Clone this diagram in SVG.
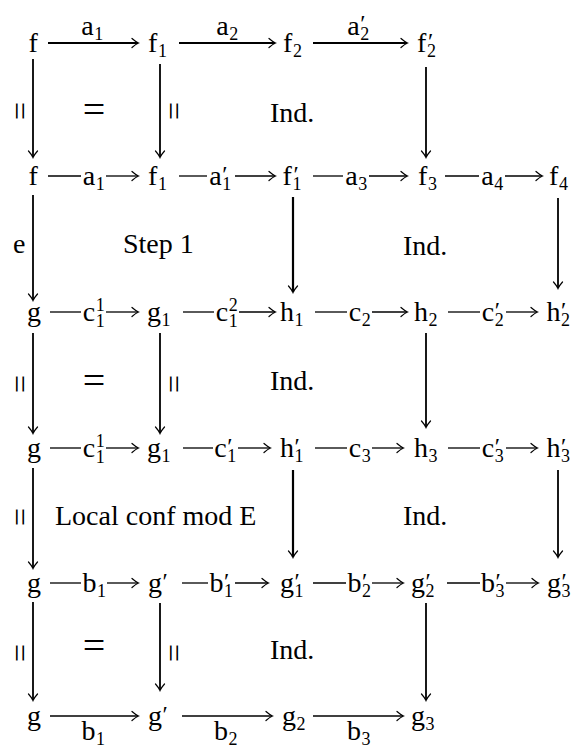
<svg xmlns="http://www.w3.org/2000/svg" width="572" height="751" viewBox="0 0 572 751" font-family="'Liberation Serif', 'Times New Roman', Times, 'DejaVu Serif', serif">
<style>
text{font-family:"Liberation Serif","Times New Roman",Times,"DejaVu Serif",serif;fill:#000}
.m{font-size:28px}
.s{font-size:18px}
.p{font-size:24px}
.q{font-size:40px;text-anchor:middle}
.r{font-size:32px;text-anchor:middle}
.top{stroke:#000;stroke-width:2;fill:none}
.in{stroke:#000;stroke-width:1.3;fill:none}
.bot{stroke:#000;stroke-width:1.6;fill:none}
.v{stroke:#000;stroke-width:1.8;fill:none}
.vt{stroke:#000;stroke-width:2.2;fill:none}
.a{marker-end:url(#ah)}
</style>
<defs>
<marker id="ah" viewBox="-8 -6 10 12" refX="0" refY="0" markerWidth="10" markerHeight="12" markerUnits="userSpaceOnUse" orient="auto">
<path d="M-6,-4.5 Q-2,-1 0.5,0 Q-2,1 -6,4.5" fill="none" stroke="#000" stroke-width="1.2" stroke-linecap="round"/>
</marker>
</defs>

<g id="nodes">
<!-- row 1 -->
<g id="n-f-r1"><text class="m" x="28.4" y="52">f</text></g>
<g id="n-f1-r1"><text class="m" x="148" y="52">f</text><text class="s" x="158" y="57">1</text></g>
<g id="n-f2-r1"><text class="m" x="283" y="52">f</text><text class="s" x="293" y="57">2</text></g>
<g id="n-f2p-r1"><text class="m" x="417" y="52">f</text><text class="p" x="428" y="49">′</text><text class="s" x="427" y="57">2</text></g>
<!-- row 2 -->
<g id="n-f-r2"><text class="m" x="28.4" y="185">f</text></g>
<g id="n-f1-r2"><text class="m" x="148" y="185">f</text><text class="s" x="158" y="190">1</text></g>
<g id="n-f1p-r2"><text class="m" x="282.5" y="185">f</text><text class="p" x="293.5" y="182">′</text><text class="s" x="292.5" y="190">1</text></g>
<g id="n-f3-r2"><text class="m" x="418" y="185">f</text><text class="s" x="428" y="190">3</text></g>
<g id="n-f4-r2"><text class="m" x="549" y="185">f</text><text class="s" x="559" y="190">4</text></g>
<!-- row 3 -->
<g id="n-g-r3"><text class="m" x="27" y="321">g</text></g>
<g id="n-g1-r3"><text class="m" x="147" y="321">g</text><text class="s" x="161.5" y="326">1</text></g>
<g id="n-h1-r3"><text class="m" x="280" y="321">h</text><text class="s" x="294.5" y="326">1</text></g>
<g id="n-h2-r3"><text class="m" x="414" y="321">h</text><text class="s" x="428.5" y="326">2</text></g>
<g id="n-h2p-r3"><text class="m" x="546.5" y="321">h</text><text class="p" x="561" y="318">′</text><text class="s" x="561" y="326">2</text></g>
<!-- row 4 -->
<g id="n-g-r4"><text class="m" x="27" y="457">g</text></g>
<g id="n-g1-r4"><text class="m" x="147" y="457">g</text><text class="s" x="161.5" y="462">1</text></g>
<g id="n-h1p-r4"><text class="m" x="280" y="457">h</text><text class="p" x="294.5" y="454">′</text><text class="s" x="294.5" y="462">1</text></g>
<g id="n-h3-r4"><text class="m" x="414" y="457">h</text><text class="s" x="428.5" y="462">3</text></g>
<g id="n-h3p-r4"><text class="m" x="546.5" y="457">h</text><text class="p" x="561" y="454">′</text><text class="s" x="561" y="462">3</text></g>
<!-- row 5 -->
<g id="n-g-r5"><text class="m" x="27" y="592">g</text></g>
<g id="n-gp-r5"><text class="m" x="148" y="592">g</text><text class="p" x="162.5" y="589">′</text></g>
<g id="n-g1p-r5"><text class="m" x="280" y="592">g</text><text class="p" x="294.5" y="589">′</text><text class="s" x="294.5" y="597">1</text></g>
<g id="n-g2p-r5"><text class="m" x="411" y="592">g</text><text class="p" x="425.5" y="589">′</text><text class="s" x="425.5" y="597">2</text></g>
<g id="n-g3p-r5"><text class="m" x="547" y="592">g</text><text class="p" x="561.5" y="589">′</text><text class="s" x="561.5" y="597">3</text></g>
<!-- row 6 -->
<g id="n-g-r6"><text class="m" x="27" y="725">g</text></g>
<g id="n-gp-r6"><text class="m" x="148" y="725">g</text><text class="p" x="162.5" y="722">′</text></g>
<g id="n-g2-r6"><text class="m" x="282" y="725">g</text><text class="s" x="296.5" y="730">2</text></g>
<g id="n-g3-r6"><text class="m" x="411" y="725">g</text><text class="s" x="425.5" y="730">3</text></g>
</g>

<g id="connectors">
<!-- row 1 -->
<line class="top a" x1="48" y1="43" x2="138" y2="43"/>
<line class="top a" x1="179" y1="43" x2="275" y2="43"/>
<line class="top a" x1="313" y1="43" x2="407" y2="43"/>
<!-- row 2 -->
<line class="in" x1="48" y1="176" x2="81" y2="176"/><line class="in a" x1="106" y1="176" x2="138" y2="176"/>
<line class="in" x1="179" y1="176" x2="207" y2="176"/><line class="in a" x1="235" y1="176" x2="275" y2="176"/>
<line class="in" x1="313" y1="176" x2="343" y2="176"/><line class="in a" x1="369" y1="176" x2="407" y2="176"/>
<line class="in" x1="445" y1="176" x2="479" y2="176"/><line class="in a" x1="505" y1="176" x2="542" y2="176"/>
<!-- row 3 -->
<line class="in" x1="50" y1="312" x2="81" y2="312"/><line class="in a" x1="106" y1="312" x2="138" y2="312"/>
<line class="in" x1="183" y1="312" x2="214" y2="312"/><line class="in a" x1="239" y1="312" x2="275" y2="312"/>
<line class="in" x1="315" y1="312" x2="347" y2="312"/><line class="in a" x1="372" y1="312" x2="407" y2="312"/>
<line class="in" x1="448" y1="312" x2="480" y2="312"/><line class="in a" x1="506" y1="312" x2="537" y2="312"/>
<!-- row 4 -->
<line class="in" x1="50" y1="448" x2="81" y2="448"/><line class="in a" x1="106" y1="448" x2="138" y2="448"/>
<line class="in" x1="183" y1="448" x2="213" y2="448"/><line class="in a" x1="238" y1="448" x2="270" y2="448"/>
<line class="in" x1="315" y1="448" x2="347" y2="448"/><line class="in a" x1="372" y1="448" x2="403" y2="448"/>
<line class="in" x1="448" y1="448" x2="480" y2="448"/><line class="in a" x1="506" y1="448" x2="537" y2="448"/>
<!-- row 5 -->
<line class="in" x1="50" y1="583" x2="81" y2="583"/><line class="in a" x1="107" y1="583" x2="138" y2="583"/>
<line class="in" x1="182" y1="583" x2="208" y2="583"/><line class="in a" x1="235" y1="583" x2="268" y2="583"/>
<line class="in" x1="313" y1="583" x2="346" y2="583"/><line class="in a" x1="372" y1="583" x2="403" y2="583"/>
<line class="in" x1="447" y1="583" x2="480" y2="583"/><line class="in a" x1="506" y1="583" x2="538" y2="583"/>
<!-- row 6 -->
<line class="bot a" x1="50" y1="716" x2="138" y2="716"/>
<line class="bot a" x1="182" y1="716" x2="272" y2="716"/>
<line class="bot a" x1="313" y1="716" x2="403" y2="716"/>
<!-- verticals -->
<line class="v a" x1="33" y1="59" x2="33" y2="157"/>
<line class="v a" x1="160" y1="64" x2="160" y2="157"/>
<line class="v a" x1="426" y1="67" x2="426" y2="157"/>
<line class="v a" x1="33" y1="195" x2="33" y2="300"/>
<line class="vt a" x1="293" y1="197" x2="293" y2="292"/>
<line class="v a" x1="558" y1="198" x2="558" y2="288"/>
<line class="v a" x1="33" y1="333" x2="33" y2="433"/>
<line class="v a" x1="160" y1="333" x2="160" y2="433"/>
<line class="v a" x1="426" y1="333" x2="426" y2="427"/>
<line class="v a" x1="33" y1="468" x2="33" y2="568"/>
<line class="vt a" x1="293" y1="470" x2="293" y2="557"/>
<line class="v a" x1="558" y1="470" x2="558" y2="557"/>
<line class="v a" x1="33" y1="602" x2="33" y2="700"/>
<line class="v a" x1="160" y1="603" x2="160" y2="690"/>
<line class="v a" x1="426" y1="603" x2="426" y2="700"/>
</g>

<g id="arrow-labels">
<!-- row 1 above -->
<text class="m" x="81.3" y="35">a</text><text class="s" x="94.2" y="40">1</text>
<text class="m" x="216.3" y="35">a</text><text class="s" x="229.2" y="40">2</text>
<text class="m" x="347.3" y="35">a</text><text class="p" x="360.2" y="31">′</text><text class="s" x="360.2" y="40">2</text>
<!-- row 2 -->
<text class="m" x="82.8" y="185">a</text><text class="s" x="95.7" y="190">1</text>
<text class="m" x="209.3" y="185">a</text><text class="p" x="222.2" y="182">′</text><text class="s" x="222.2" y="190">1</text>
<text class="m" x="345.3" y="185">a</text><text class="s" x="358.2" y="190">3</text>
<text class="m" x="481.3" y="185">a</text><text class="s" x="494.2" y="190">4</text>
<!-- row 3 -->
<text class="m" x="82.8" y="321">c</text><text class="s" x="95.7" y="311">1</text><text class="s" x="95.7" y="327">1</text>
<text class="m" x="215.8" y="321">c</text><text class="s" x="228.7" y="311">2</text><text class="s" x="228.7" y="327">1</text>
<text class="m" x="348.8" y="321">c</text><text class="s" x="361.7" y="326">2</text>
<text class="m" x="481.8" y="321">c</text><text class="p" x="494.7" y="318">′</text><text class="s" x="494.7" y="326">2</text>
<!-- row 4 -->
<text class="m" x="82.8" y="457">c</text><text class="s" x="95.7" y="447">1</text><text class="s" x="95.7" y="463">1</text>
<text class="m" x="214.3" y="457">c</text><text class="p" x="227.2" y="454">′</text><text class="s" x="227.2" y="462">1</text>
<text class="m" x="348.8" y="457">c</text><text class="s" x="361.7" y="462">3</text>
<text class="m" x="481.8" y="457">c</text><text class="p" x="494.7" y="454">′</text><text class="s" x="494.7" y="462">3</text>
<!-- row 5 -->
<text class="m" x="82.5" y="592">b</text><text class="s" x="97" y="597">1</text>
<text class="m" x="209.5" y="592">b</text><text class="p" x="224" y="589">′</text><text class="s" x="224" y="597">1</text>
<text class="m" x="347.5" y="592">b</text><text class="p" x="362" y="589">′</text><text class="s" x="362" y="597">2</text>
<text class="m" x="481" y="592">b</text><text class="p" x="495.5" y="589">′</text><text class="s" x="495.5" y="597">3</text>
<!-- row 6 below -->
<text class="m" x="81.5" y="740">b</text><text class="s" x="96" y="745">1</text>
<text class="m" x="214" y="740">b</text><text class="s" x="228.5" y="745">2</text>
<text class="m" x="347" y="740">b</text><text class="s" x="361.5" y="745">3</text>
<!-- vertical labels -->
<text class="r" transform="translate(18,111) rotate(90)" y="9">=</text>
<text class="r" transform="translate(171.5,111) rotate(90)" y="9">=</text>
<text class="m" x="13" y="253">e</text>
<text class="r" transform="translate(18,384) rotate(90)" y="9">=</text>
<text class="r" transform="translate(171.5,384) rotate(90)" y="9">=</text>
<text class="r" transform="translate(18,517) rotate(90)" y="9">=</text>
<text class="r" transform="translate(18,653) rotate(90)" y="9">=</text>
<text class="r" transform="translate(171.5,653) rotate(90)" y="9">=</text>
</g>

<g id="cell-labels">
<text class="q" x="94" y="123">=</text>
<text class="m" x="270" y="122">Ind.</text>
<text class="m" x="123" y="253">Step 1</text>
<text class="m" x="403" y="255">Ind.</text>
<text class="q" x="94" y="394">=</text>
<text class="m" x="270" y="390">Ind.</text>
<text class="m" x="55" y="525">Local conf mod E</text>
<text class="m" x="403" y="525">Ind.</text>
<text class="q" x="94" y="659">=</text>
<text class="m" x="270" y="659">Ind.</text>
</g>
</svg>
